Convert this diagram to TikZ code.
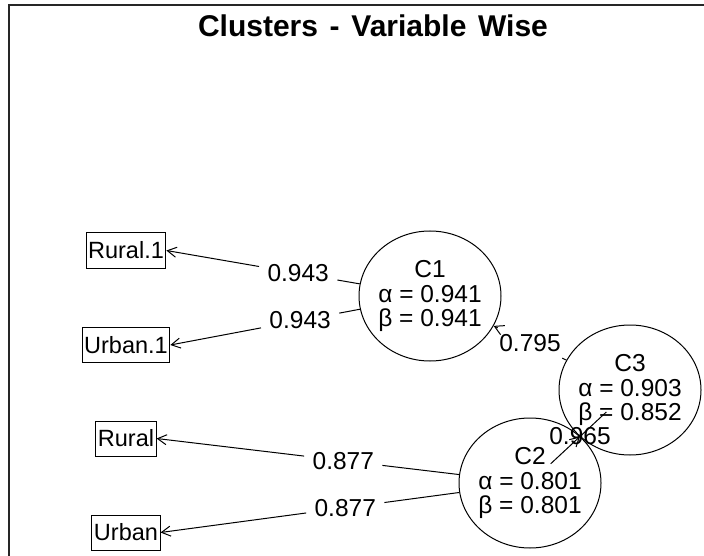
\documentclass[tikz,border=0pt]{standalone}
\usepackage{fontspec}
\setmainfont{Liberation Sans}
\newfontfamily\titlefont[WordSpace=1.4]{Liberation Sans}
\usetikzlibrary{arrows.meta,positioning,shapes.geometric,calc}
\newcommand{\plotfont}{\fontsize{23.5}{22}\selectfont}
\newcommand{\numfont}{\fontsize{24.5}{24.5}\selectfont}

\begin{document}
\begin{tikzpicture}[x=1pt,y=-1pt,>={Straight Barb[length=9pt,width=10pt]},line width=1pt]
\tikzstyle{varbox}=[draw,font=\plotfont,minimum height=35pt,inner xsep=2pt,inner ysep=0pt]
\tikzstyle{clust}=[draw,ellipse,minimum width=142pt,minimum height=130pt,inner xsep=-12pt,inner ysep=0pt,align=center,font=\numfont]
\tikzstyle{wlabel}=[font=\numfont,inner xsep=8pt,inner ysep=6pt]
\useasboundingbox (0,0) rectangle (704,556);
\draw[black!85,line width=1.3pt] (704,5) -- (9,5) -- (9,556);
\node[font=\titlefont\bfseries\fontsize{30}{32}\selectfont,anchor=base] (title) at (373,36.5) {Clusters - Variable Wise};

\node[clust] (C1) at (430,296) {C1\\α = 0.941\\β = 0.941};
\node[clust] (C3) at (630,390) {C3\\α = 0.903\\β = 0.852};
\node[clust] (C2) at (530,483) {C2\\α = 0.801\\β = 0.801};

\node[varbox] (rural1) at (126,250.5) {Rural.1};
\node[varbox,below=58.5pt of rural1] (urban1) {Urban.1};
\node[varbox,below=57.5pt of urban1] (rural) {Rural};
\node[varbox,below=58pt of rural] (urban) {Urban};

\node[wlabel] (e11) at ($(C1)!.5!(rural1.east)$) {0.943};
\node[wlabel] (e12) at ($(C1)!.5!(urban1.east)$) {0.943};
\node[wlabel] (e21) at ($(C2)!.5!(rural.east)$) {0.877};
\node[wlabel] (e22) at ($(C2)!.5!(urban.east)$) {0.877};
\node[wlabel] (e31) at ($(C3)!.5!(C1)$) {0.795};
\coordinate (t32) at ($(C3)!.5!(C2)$);
\node[font=\numfont] (e32) at (t32) {0.965};
\coordinate (g2) at ($(t32)!40pt!(C2)$);
\coordinate (g3) at ($(t32)!36pt!(C3)$);

\draw (C1) -- (e11); \draw[->] (e11) -- (rural1.east);
\draw (C1) -- (e12); \draw[->] (e12) -- (urban1.east);
\draw (C2) -- (e21); \draw[->] (e21) -- (rural.east);
\draw (C2) -- (e22); \draw[->] (e22) -- (urban.east);
\draw (C3) -- (e31); \draw[->] (e31) -- (C1);
\draw[->] (g2) -- (t32); \draw (t32) -- (g3);
\end{tikzpicture}
\end{document}
